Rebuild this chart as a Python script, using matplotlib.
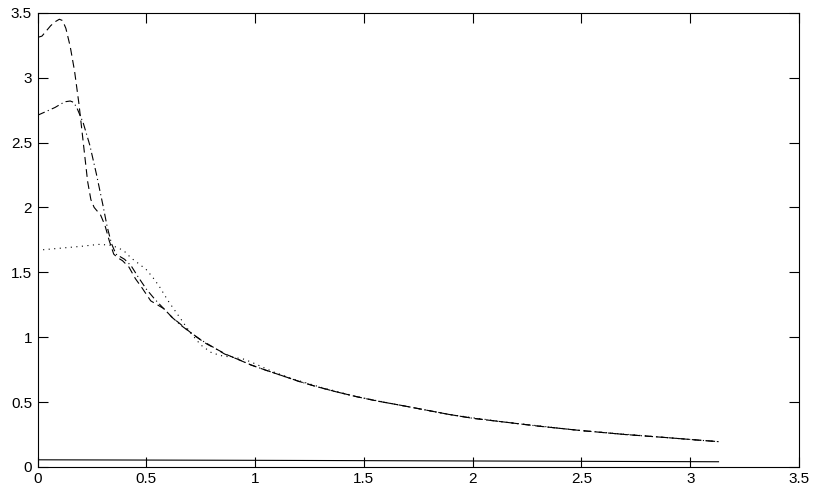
import numpy as np
import matplotlib
matplotlib.use("Agg")
import matplotlib.pyplot as plt

plt.rcParams['font.family'] = ['Liberation Sans', 'DejaVu Sans']

# dashed curve
x_dash = [0.00, 0.02, 0.04, 0.06, 0.08, 0.10, 0.115, 0.13, 0.15, 0.17, 0.19, 0.21, 0.23,
          0.245, 0.26, 0.275, 0.29, 0.31, 0.33, 0.35, 0.37, 0.39, 0.42, 0.45, 0.48, 0.52,
          0.55, 0.58, 0.62, 0.65, 0.70, 0.74, 0.78, 0.82, 0.87, 0.92, 0.98, 1.05, 1.13,
          1.20, 1.28, 1.37, 1.47, 1.57, 1.67, 1.78, 1.89, 2.00, 2.15, 2.30, 2.50, 2.70,
          2.90, 3.05, 3.13]
y_dash = [3.31, 3.32, 3.36, 3.40, 3.43, 3.45, 3.44, 3.38, 3.24, 3.05, 2.80, 2.50, 2.20,
          2.06, 2.00, 1.97, 1.94, 1.86, 1.74, 1.64, 1.61, 1.59, 1.54, 1.45, 1.38, 1.28,
          1.25, 1.22, 1.15, 1.11, 1.04, 0.99, 0.945, 0.91, 0.865, 0.83, 0.786, 0.745, 0.70,
          0.66, 0.62, 0.58, 0.54, 0.505, 0.475, 0.44, 0.405, 0.375, 0.345, 0.315, 0.28,
          0.25, 0.225, 0.205, 0.195]

# dash-dot curve
x_dashdot = [0.00, 0.04, 0.08, 0.11, 0.13, 0.15, 0.165, 0.18, 0.21, 0.24, 0.27, 0.30, 0.32,
             0.34, 0.36, 0.38, 0.40, 0.43, 0.46, 0.50, 0.54, 0.58, 0.62, 0.66, 0.70, 0.75,
             0.80, 0.86, 0.92, 0.98, 1.05, 1.13, 1.20, 1.28, 1.37, 1.47, 1.57, 1.67, 1.78,
             1.89, 2.00, 2.15, 2.30, 2.50, 2.70, 2.90, 3.05, 3.13]
y_dashdot = [2.71, 2.74, 2.77, 2.80, 2.815, 2.82, 2.81, 2.77, 2.65, 2.48, 2.26, 2.02, 1.85,
             1.72, 1.64, 1.62, 1.60, 1.55, 1.47, 1.37, 1.29, 1.22, 1.15, 1.09, 1.04, 0.98,
             0.93, 0.87, 0.83, 0.787, 0.745, 0.70, 0.66, 0.62, 0.58, 0.54, 0.505, 0.475,
             0.44, 0.405, 0.375, 0.345, 0.315, 0.28, 0.25, 0.225, 0.205, 0.195]

# dotted curve
x_dot = [0.00, 0.10, 0.20, 0.28, 0.33, 0.37, 0.40, 0.43, 0.47, 0.50, 0.53, 0.56, 0.60,
         0.65, 0.70, 0.75, 0.80, 0.85, 0.90, 0.95, 1.00, 1.08, 1.17, 1.30, 1.47, 1.67,
         1.89, 2.15, 2.50, 2.90, 3.13]
y_dot = [1.67, 1.685, 1.70, 1.715, 1.71, 1.69, 1.66, 1.61, 1.56, 1.52, 1.46, 1.39, 1.28,
         1.16, 1.04, 0.94, 0.88, 0.855, 0.845, 0.83, 0.795, 0.735, 0.68, 0.615, 0.54, 0.475,
         0.405, 0.345, 0.28, 0.225, 0.195]

# solid curve near zero
x_solid = [0.00, 1.00, 2.00, 3.13]
y_solid = [0.055, 0.051, 0.046, 0.040]

fig = plt.figure(figsize=(8.17, 4.91), dpi=100)
ax = fig.add_axes([0.046, 0.049, 0.932, 0.925])

lw = 0.8
ax.plot(x_dash, y_dash, color='k', lw=lw, dashes=(7, 4))
ax.plot(x_dashdot, y_dashdot, color='k', lw=lw, dashes=(7, 3, 1, 3))
ax.plot(x_dot, y_dot, color='k', lw=lw, dashes=(1, 4))
ax.plot(x_solid, y_solid, color='k', lw=lw)

ax.set_xlim(0, 3.5)
ax.set_ylim(0, 3.5)
ticks = np.arange(0, 3.51, 0.5)
labels = ['0', '0.5', '1', '1.5', '2', '2.5', '3', '3.5']
ax.set_xticks(ticks)
ax.set_xticklabels(labels)
ax.set_yticks(ticks)
ax.set_yticklabels(labels)
ax.tick_params(direction='in', length=7, width=0.8, top=True, right=True,
               labelsize=11, pad=4)
for s in ax.spines.values():
    s.set_linewidth(0.8)

fig.savefig('out.png', dpi=100)
